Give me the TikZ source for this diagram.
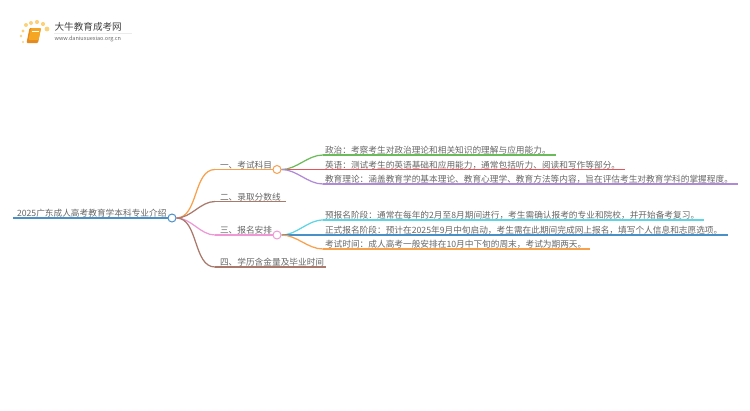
\documentclass[tikz,border=0pt]{standalone}
\usepackage{fontspec}
\setmainfont{Noto Sans CJK SC}
\definecolor{txtgray}{HTML}{666666}
\definecolor{rootblue}{HTML}{4A90C8}
\definecolor{branchorange}{HTML}{F9A04C}
\definecolor{branchbrown}{HTML}{A9796B}
\definecolor{branchpink}{HTML}{EE99D6}
\definecolor{leafgreen}{HTML}{6CBB5A}
\definecolor{leafred}{HTML}{E8535A}
\definecolor{leafpurple}{HTML}{B08AD8}
\definecolor{leafcyan}{HTML}{5DD5E5}
\definecolor{logoorange}{HTML}{F5A623}
\definecolor{logodark}{HTML}{E58A1F}
\definecolor{logodot}{HTML}{FBD27A}

\begin{document}
\begin{tikzpicture}[x=1pt, y=-1pt, -, line width=1.25pt,
  label node/.style={anchor=south west, inner sep=0pt, outer sep=0pt, text=txtgray, font=\fontsize{8.68}{10}\selectfont, yshift=0.5pt},
  hub node/.style={circle, draw, fill=white, inner sep=0pt, minimum size=8pt, line width=1pt},
  curve/.style={out=0, in=180, looseness=0.9},
  logo dot/.style={circle, fill=logodot, inner sep=0pt}]
  \useasboundingbox (0,0) rectangle (750,410);

  % logo
  \foreach \x/\y/\r in {26/25/2, 31/23/2, 37/22/2.1, 43/24/2.1, 47/29/2.4, 23/31/1.6, 21/36/1.3, 23/42/1.2}
    \node[logo dot, minimum size=2*\r pt] at (\x,\y) {};
  \fill[logodark, rounded corners=1pt] (29.5,28) -- (41,28) -- (38,43) -- (26.5,43) -- cycle;
  \fill[logoorange, rounded corners=1pt] (31,28) -- (41,28) -- (38.5,40) -- (28.5,40) -- cycle;
  \draw[white, line width=0.4pt] (31.5,31) -- (38.5,31);
  \node[anchor=west, inner sep=0pt, text=black!75, font=\fontsize{9.6}{10}\selectfont] (sitename) at (54,27) {大牛教育成考网};
  \node[anchor=west, inner sep=0pt, text=txtgray, font=\fontsize{5.5}{6}\selectfont] (siteurl) at (54,38.5) {www.daniuxuexiao.org.cn};
  \draw[black!8, line width=0.4pt] (54,33) -- (132,33);

  % root
  \node[hub node, draw=rootblue] (root) at (172,218) {};
  \coordinate (r0) at (13,218);
  \node[label node] (rt) at (17,218) {2025广东成人高考教育学本科专业介绍};

  % second level
  \node[hub node, draw=branchorange] (a) at (277,169.5) {};
  \node[hub node, draw=branchpink] (c) at (277,235) {};
  \coordinate (a0) at (215,169.5);
  \coordinate (b0) at (215,201.5);
  \coordinate (b1) at (286,201.5);
  \coordinate (c0) at (215,235);
  \coordinate (d0) at (215,267);
  \coordinate (d1) at (326,267);
  \node[label node] (at) at (220,169.5) {一、考试科目};
  \node[label node] (bt) at (220,201.5) {二、录取分数线};
  \node[label node] (ct) at (220,235) {三、报名安排};
  \node[label node] (dt) at (220,267) {四、学历含金量及毕业时间};

  % leaves
  \coordinate (a1) at (323,155);
  \coordinate (a3) at (323,184);
  \coordinate (c1) at (323,220);
  \coordinate (c3) at (323,249);
  \coordinate (a1e) at (556,155);
  \coordinate (a2e) at (625,169.5);
  \coordinate (a3e) at (738,184);
  \coordinate (c1e) at (704,220);
  \coordinate (c2e) at (728,235);
  \coordinate (c3e) at (590,249);
  \node[label node] (a1t) at (325,155) {政治：考察考生对政治理论和相关知识的理解与应用能力。};
  \node[label node] (a2t) at (325,169.5) {英语：测试考生的英语基础和应用能力，通常包括听力、阅读和写作等部分。};
  \node[label node] (a3t) at (325,184) {教育理论：涵盖教育学的基本理论、教育心理学、教育方法等内容，旨在评估考生对教育学科的掌握程度。};
  \node[label node] (c1t) at (325,220) {预报名阶段：通常在每年的2月至8月期间进行，考生需确认报考的专业和院校，并开始备考复习。};
  \node[label node] (c2t) at (325,234.5) {正式报名阶段：预计在2025年9月中旬启动，考生需在此期间完成网上报名，填写个人信息和志愿选项。};
  \node[label node] (c3t) at (325,249) {考试时间：成人高考一般安排在10月中下旬的周末，考试为期两天。};

  \path
    (r0) edge [rootblue] (root)
    (root) edge [branchorange, curve] (a0)
    (a0) edge [branchorange] (a)
    (root) edge [branchbrown, curve] (b0)
    (b0) edge [branchbrown] (b1)
    (root) edge [branchpink, curve] (c0)
    (c0) edge [branchpink] (c)
    (root) edge [branchbrown, curve] (d0)
    (d0) edge [branchbrown] (d1)
    (a) edge [leafgreen, curve] (a1)
    (a1) edge [leafgreen] (a1e)
    (a) edge [leafred] (a2e)
    (a) edge [leafpurple, curve] (a3)
    (a3) edge [leafpurple] (a3e)
    (c) edge [leafcyan, curve] (c1)
    (c1) edge [leafcyan] (c1e)
    (c) edge [rootblue] (c2e)
    (c) edge [branchorange, curve] (c3)
    (c3) edge [branchorange] (c3e);
\end{tikzpicture}
\end{document}
